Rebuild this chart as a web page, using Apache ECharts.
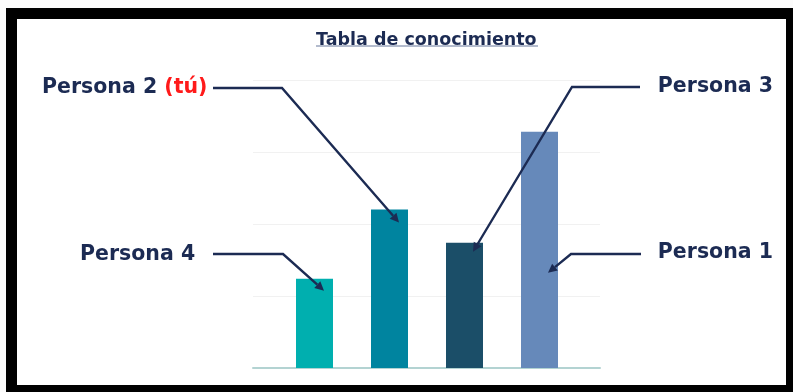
<!DOCTYPE html>
<html><head><meta charset="utf-8">
<script src="https://cdn.jsdelivr.net/npm/echarts@6/dist/echarts.min.js"></script>
<style>
html,body{margin:0;padding:0;background:#fbfbfb;}
#frame{position:absolute;left:6px;top:8px;width:787px;height:384px;box-sizing:border-box;border-style:solid;border-color:#000;border-width:11px 7px 7px 11px;background:#fff;}
#chart{position:absolute;left:0;top:0;width:793px;height:392px;}
</style></head>
<body>
<div id="frame"></div>
<div id="chart"></div>
<script>
var titleText = "Tabla de conocimiento";
var categories = ["Persona 4", "Persona 2", "Persona 3", "Persona 1"];
var values = [31, 55, 43.5, 82];
var barColors = ["#00AFAF", "#00849F", "#1B4E68", "#6689BA"];
var yTicks = [0, 25, 50, 75, 100];

var navy = "#1c2b53";
var chart = echarts.init(document.getElementById('chart'), null, {renderer: 'canvas'});
var FONT = "DejaVu Sans";
var option = {
  animation: false,
  backgroundColor: 'transparent',
  title: {
    text: titleText, left: 311, top: 26,
    textStyle: {fontFamily: FONT, fontWeight: 'bold', fontSize: 17.5, color: navy}
  },
  grid: [
    {left: 253, width: 347, top: 80, bottom: 24},
    {left: 277, width: 300, top: 80, bottom: 24}
  ],
  xAxis: [
    {gridIndex: 0, type: 'category', data: [''], axisLine: {lineStyle: {color: '#b3d3d2', width: 2}}, axisTick: {show: false}, axisLabel: {show: false}},
    {gridIndex: 1, type: 'category', data: categories, axisLine: {show: false}, axisTick: {show: false}, axisLabel: {show: false}}
  ],
  yAxis: [
    {gridIndex: 0, type: 'value', min: yTicks[0], max: yTicks[yTicks.length - 1], interval: yTicks[1] - yTicks[0], axisLabel: {show: false}, axisLine: {show: false}, axisTick: {show: false}, splitLine: {lineStyle: {color: '#f1f1f1', width: 1}}},
    {gridIndex: 1, type: 'value', min: yTicks[0], max: yTicks[yTicks.length - 1], interval: yTicks[1] - yTicks[0], axisLabel: {show: false}, axisLine: {show: false}, axisTick: {show: false}, splitLine: {show: false}}
  ],
  series: [{
    type: 'bar', xAxisIndex: 1, yAxisIndex: 1, barWidth: 37,
    data: values.map(function (v, i) { return {value: v, itemStyle: {color: barColors[i]}}; })
  }]
};
chart.setOption(option);

var notes = [
  {cat: 1, text: [{t: 'Persona 2 ', c: navy}, {t: '(tú)', c: '#ff1a1a'}], lx: 42, ly: 88, align: 'left', start: [213, 88], elbow: [282, 88], tip: {dx: 9.5, dy: 13}},
  {cat: 0, text: [{t: 'Persona 4', c: navy}], lx: 80, ly: 255, align: 'left', start: [213, 254], elbow: [283, 254], tip: {dx: 9.5, dy: 12}},
  {cat: 2, text: [{t: 'Persona 3', c: navy}], lx: 773, ly: 87, align: 'right', start: [640, 87], elbow: [572, 87], tip: {dx: 8.5, dy: 9}},
  {cat: 3, text: [{t: 'Persona 1', c: navy}], lx: 773, ly: 253, align: 'right', start: [641, 254], elbow: [571, 254], tip: {dx: 8.5, dy: 141}}
];

var graphics = [];
graphics.push({type: 'line', shape: {x1: 316, y1: 46, x2: 538, y2: 46}, style: {stroke: '#9aa4bd', lineWidth: 1.5}, z: 10});
notes.forEach(function (n) {
  var p = chart.convertToPixel({xAxisIndex: 1, yAxisIndex: 1}, [categories[n.cat], values[n.cat]]);
  var tip = [p[0] + n.tip.dx, p[1] + n.tip.dy];
  var ang = Math.atan2(tip[1] - n.elbow[1], tip[0] - n.elbow[0]);
  var L = 9, W = 4.5;
  var back = [tip[0] - L * Math.cos(ang), tip[1] - L * Math.sin(ang)];
  var px = -Math.sin(ang), py = Math.cos(ang);
  graphics.push({type: 'polyline', shape: {points: [n.start, n.elbow, back]}, style: {stroke: navy, lineWidth: 2.4, fill: null}, z: 10});
  graphics.push({type: 'polygon', shape: {points: [tip, [back[0] + px * W, back[1] + py * W], [back[0] - px * W, back[1] - py * W]]}, style: {fill: navy}, z: 10});
  var rich = {}, str = '';
  n.text.forEach(function (s, i) {
    rich['s' + i] = {fontFamily: FONT, fontWeight: 'bold', fontSize: 20.5, fill: s.c, color: s.c};
    str += '{s' + i + '|' + s.t + '}';
  });
  graphics.push({type: 'text', x: n.lx, y: n.ly, z: 10, style: {text: str, rich: rich, align: n.align, verticalAlign: 'middle', fontFamily: FONT, fontWeight: 'bold', fontSize: 20.5}});
});
chart.setOption({graphic: graphics});
</script>
</body></html>
